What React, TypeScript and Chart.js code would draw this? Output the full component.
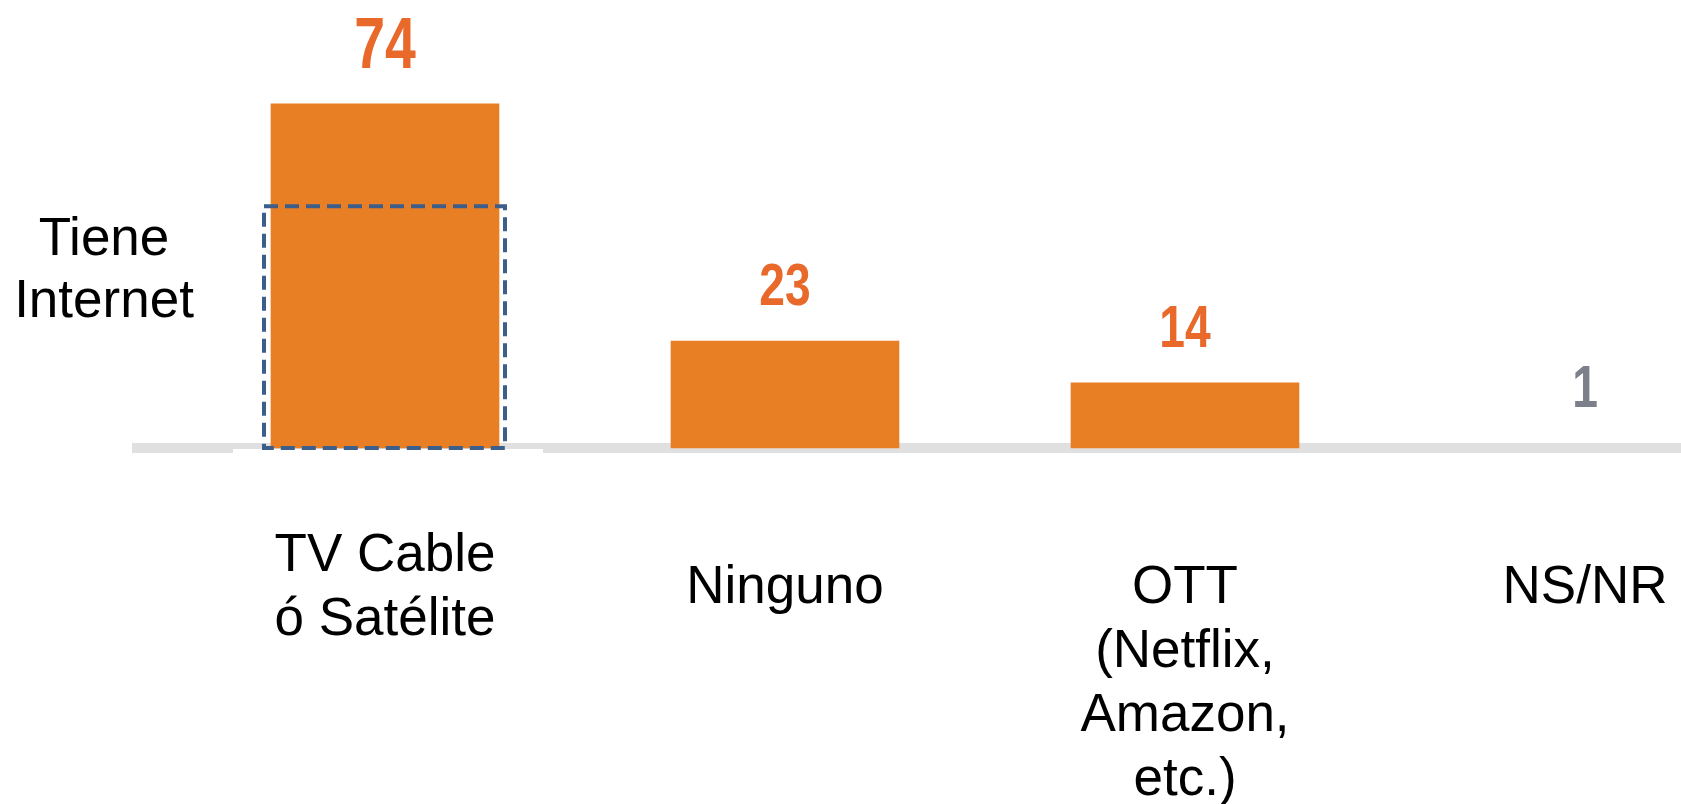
import { useEffect, useRef } from "react";
import { Chart, registerables } from "chart.js";

Chart.register(...registerables);

// ---- Data ----
const categories: string[][] = [
  ["TV Cable", "ó Satélite"],
  ["Ninguno"],
  ["OTT", "(Netflix,", "Amazon,", "etc.)"],
  ["NS/NR"],
];
const values: number[] = [74, 23, 14, 1];
const valueLabels: string[] = ["74", "23", "14", "1"];
const tieneInternetValue = 52;
const sideLabel: string[] = ["Tiene", "Internet"];

// ---- Styles ----
const ORANGE = "#E97F24";
const LABEL_ORANGE = "#E8692A";
const BAND = "#E0E0E0";
const FONT = "'Liberation Sans', Arial, Helvetica, sans-serif";

const decorPlugin = {
  id: "decor",
  beforeDatasetsDraw(chart: any) {
    const ctx = chart.ctx as CanvasRenderingContext2D;
    const y0 = chart.scales.y.getPixelForValue(0);
    const first = chart.getDatasetMeta(0).data[0].getProps(["x"], true);
    ctx.save();
    ctx.fillStyle = BAND;
    ctx.fillRect(132, y0 - 5, chart.width - 132, 10);
    ctx.fillStyle = "#FFFFFF";
    ctx.fillRect(first.x - 152, y0 + 1, 310, 5);
    ctx.restore();
  },
  afterDatasetsDraw(chart: any) {
    const ctx = chart.ctx as CanvasRenderingContext2D;
    const yScale = chart.scales.y;
    const y0 = yScale.getPixelForValue(0);
    const bars = chart.getDatasetMeta(0).data.map((b: any) =>
      b.getProps(["x", "y", "width"], true)
    );
    ctx.save();

    // dashed "Tiene Internet" box around first bar
    const b0 = bars[0];
    const left = b0.x - b0.width / 2 - 7;
    const right = b0.x + b0.width / 2 + 6;
    const top = yScale.getPixelForValue(tieneInternetValue);
    ctx.strokeStyle = "#3B5E8B";
    ctx.lineWidth = 4;
    ctx.setLineDash([14, 7]);
    ctx.beginPath();
    ctx.moveTo(left, top);
    ctx.lineTo(right, top);
    ctx.lineTo(right, y0);
    ctx.lineTo(left, y0);
    ctx.closePath();
    ctx.stroke();
    ctx.setLineDash([]);

    // value labels (bold condensed)
    ctx.textAlign = "center";
    ctx.textBaseline = "alphabetic";
    bars.forEach((b: any, i: number) => {
      const size = i === 0 ? 72 : 60;
      ctx.font = `bold ${size}px ${FONT}`;
      ctx.fillStyle = i === 3 ? "#7C808A" : LABEL_ORANGE;
      ctx.save();
      ctx.translate(b.x, b.y - 36);
      ctx.scale(0.77, 1);
      ctx.fillText(valueLabels[i], 0, 0);
      ctx.restore();
    });

    // category labels
    ctx.font = `53px ${FONT}`;
    ctx.fillStyle = "#000000";
    const rowBase = y0 + 155;
    const lineH = 64;
    bars.forEach((b: any, i: number) => {
      const lines = categories[i];
      const start = lines.length === 2 ? rowBase - lineH / 2 : rowBase;
      lines.forEach((ln, j) => ctx.fillText(ln, b.x, start + j * lineH));
    });

    // side label
    sideLabel.forEach((ln, j) => ctx.fillText(ln, 104, 255 + j * 62));

    ctx.restore();
  },
};

export default function App() {
  const ref = useRef<HTMLCanvasElement | null>(null);
  useEffect(() => {
    if (!ref.current) return;
    const chart = new Chart(ref.current, {
      type: "bar",
      data: {
        labels: categories.map((c) => c.join(" ")),
        datasets: [
          {
            data: values,
            backgroundColor: [ORANGE, ORANGE, ORANGE, BAND],
            borderWidth: 0,
            barThickness: 228,
            clip: false as any,
          },
        ],
      },
      options: {
        responsive: false,
        animation: false,
        layout: { padding: { left: 385, right: 96, top: 76, bottom: 356 } },
        plugins: { legend: { display: false }, tooltip: { enabled: false } },
        scales: {
          x: { type: "category", offset: false, display: false, grid: { display: false } },
          y: { display: false, min: 0, max: 80, grid: { display: false } },
        },
      },
      plugins: [decorPlugin],
    });
    return () => chart.destroy();
  }, []);
  return (
    <div style={{ position: "fixed", left: 0, top: 0, width: 1681, height: 804, background: "#fff" }}>
      <canvas ref={ref} width={1681} height={804} style={{ display: "block" }} />
    </div>
  );
}
